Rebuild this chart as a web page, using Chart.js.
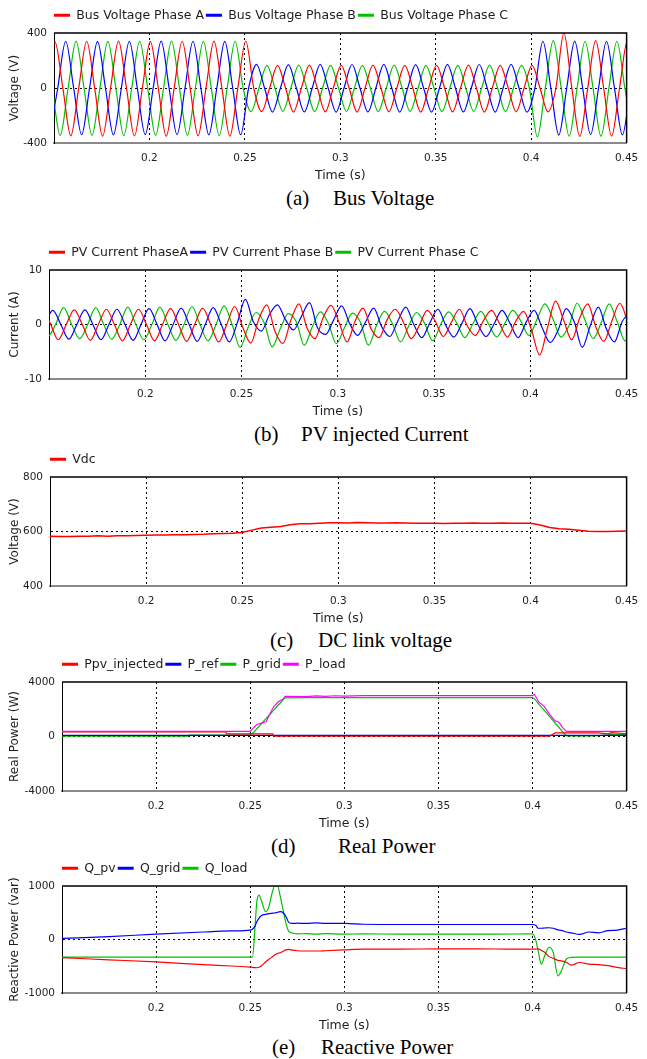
<!DOCTYPE html>
<html lang="en">
<head>
<meta charset="utf-8">
<title>Bus voltage, PV current, DC link voltage, real and reactive power</title>
<script src="https://cdn.jsdelivr.net/npm/chart.js@4.4.1/dist/chart.umd.min.js"></script>
<style>
    html, body { margin: 0; padding: 0; background: #fff; }
    #page { position: relative; width: 647px; height: 1059px; overflow: hidden; }
    #page canvas { position: absolute; left: 0; }
    .cap { position: absolute; font: 21px/24px "Liberation Serif", "Times New Roman", serif; color: #000; white-space: nowrap; }
</style>
</head>
<body>
<div id="page"></div>
<script>
/* ---------------- Data ---------------- */
const timeTicks = [0.2, 0.25, 0.3, 0.35, 0.4, 0.45];
const quarterStep = 1 / 240;   // phase waveforms are read every quarter of a 60 Hz cycle

// (a) bus voltage, V
const busLabels = ["Bus Voltage Phase A", "Bus Voltage Phase B", "Bus Voltage Phase C"];
const busTicks = [-400, 0, 400];
const busStart = [0.1463, 0.1478, 0.1449];
const busA = [
    0, 338, 0, -348, 0, 340, 0, -350, 0, 341, 0, -349, 0, 339, 0, -350, 0, 340, 0, -348, 0, 341, 0, -350,
    0, 340,
    0, -172, 0, 165, 0, -175, 0, 166, 0, -174, 0, 164, 0, -175, 0, 166, 0, -173, 0, 165,
    0, -175, 0, 164, 0, -174, 0, 166, 0, -175, 0, 165, 0, -173, 0, 165,
    0, -174,
    0, 400, 0, -352, 0, 345, 0, -350, 0, 346, 0, -351, 0, 344
];
const busB = [
    -338, 0, 340, 0, -340, 0, 339, 0, -341, 0, 340, 0, -339, 0, 341, 0, -340, 0, 340, 0, -341, 0, 339, 0,
    -340,
    0, 172, 0, -175, 0, 170, 0, -174, 0, 172, 0, -175, 0, 171, 0, -174, 0, 172, 0, -175,
    0, 170, 0, -175, 0, 172, 0, -174, 0, 171, 0, -175, 0, 172, 0, -175,
    0, 340, 0, -342, 0, 341, 0, -340, 0, 340, 0, -341, 0, 340
];
const busC = [
    340, 0, -345, 0, 341, 0, -344, 0, 339, 0, -346, 0, 340, 0, -345, 0, 341, 0, -344, 0, 340, 0, -346, 0,
    340,
    0,
    -172, 0, 165, 0, -170, 0, 166, 0, -172, 0, 164, 0, -171, 0, 165, 0, -172, 0, 166, 0,
    -170, 0, 165, 0, -172, 0, 164, 0, -171, 0, 166, 0, -172, 0, 165, 0,
    -355, 0, 345, 0, -350, 0, 340, 0, -350, 0, 340, 0, -345
];

// (b) PV injected current, A
const pvLabels = ["PV Current PhaseA", "PV Current Phase B", "PV Current Phase C"];
const pvTicks = [-10, 0, 10];
const pvStart = [0.1423, 0.1478, 0.1451];
const pvA = [
    0.5, 2.6, 0.2, -2.8, 0, 2.7, 0, -2.9, 0, 2.8, 0, -3.0, 0, 2.8, 0, -3.0, 0, 2.9, 0, -3.1, 0, 3.0, 0, -3.2,
    0, 3.3, -0.5, -3.4, 1.0, 3.6, -1.2, -3.5, 0.8, 3.8, -0.6, -2.6, 1.2, 3.5, 0.4, -3.2,
    0.6, 3.0, -0.8, -2.4, 0.9, 2.8, 0.5, -2.6, -0.2, 2.6, 0.6, -2.2, 0.4, 2.8, -0.3, -2.0, 0.7, 2.6, 0.2, -2.3,
    0.5, 2.4, -1.0, -5.6, -0.5, 4.3, 0.8, -2.8, 1.2, 3.8, -0.4, -3.1, 0.6, 3.9, 0.5
];
const pvB = [
    0, 2.6, 0, -2.7, 0, 2.7, 0, -2.8, 0, 2.8, 0, -2.9, 0, 2.9, 0, -3.0, 0, 3.0, 0, -3.1, 0, 3.1, 0, -3.2,
    0.3, 4.6, 0.5, -1.2, 1.8, 3.6, 0.9, -1.0, 1.5, 4.0, -0.6, -1.8, 0.8, 3.4, 0.2, -2.0,
    0.5, 3.0, -0.4, -2.2, 0.6, 3.2, 0, -2.4, 0.3, 2.8, -0.2, -2.3, 0.2, 2.9, 0, -2.2, 0.1, 2.6, 0.2, -2.4,
    0.4, 2.6, -0.6, -3.3, -1.0, 2.9, 0.5, -4.2, -0.2, 3.2, -0.8, -3.2, 0.6, 1.8, 0
];
const pvC = [
    0, -2.2, 0, 3.1, 0, -2.6, 0, 3.1, 0, -2.7, 0, 3.2, 0, -2.8, 0, 3.2, 0, -2.9, 0, 3.3, 0, -3.0, 0, 3.4,
    0, -4.2, -0.5, 2.2, 0.3, -4.1, -0.8, 2.0, 0.5, -3.8, -0.4, 2.3, 0.2, -3.5, -0.6, 2.1,
    0.4, -3.8, -0.2, 2.4, 0.1, -3.2, -0.3, 2.2, 0.2, -3.0, 0, 2.3, 0.3, -2.4, 0.1, 2.4, 0, -2.3, 0.2, 2.6,
    0.6, -2.0, 0.9, 3.8, 1.0, -2.3, -0.2, 3.9, 0.8, -2.6, 0.3, 3.8, 0.5, -3.0, 0
];

// (c) DC link voltage, V (one reading every 5 ms from 0.15 s)
const vdcLabels = ["Vdc"];
const vdcTicks = [400, 600, 800];
const vdcStart = 0.15;
const vdcStep = 0.005;
const vdc = [
    583, 582, 582, 583, 583, 584, 583, 584, 584, 585,
    586, 587, 587, 588, 588, 589, 590, 592, 593, 594,
    596, 605, 613, 616, 618, 625, 628, 628, 630, 632,
    632, 631, 633, 632, 631, 631, 632, 631, 630, 630,
    630, 629, 630, 630, 631, 630, 630, 631, 630, 630,
    630, 624, 615, 610, 608, 605, 601, 600, 600, 601,
    602
];

// (d) real power, W
const realLabels = ["Ppv_injected", "P_ref", "P_grid", "P_load"];
const realTicks = [-4000, 0, 4000];
const realTimes = [
    0.150, 0.217, 0.2175, 0.237, 0.2375, 0.250, 0.2515, 0.2535, 0.2565, 0.2585,
    0.2615, 0.2620, 0.2625, 0.2650, 0.2675, 0.2685, 0.2800, 0.2850, 0.2900, 0.2950,
    0.3000, 0.3100, 0.3500, 0.4000, 0.4010, 0.4035, 0.4060, 0.4090, 0.4120, 0.4140,
    0.4160, 0.4180, 0.4300, 0.4350, 0.4400, 0.4420, 0.4500
];
const pPv = [
    330, 330, 330, 330, 200, 200, 200, 200, 200, 200,
    200, 200, 20, 20, 20, 20, 20, 20, 20, 20,
    20, 20, 20, 20, 20, 20, 20, 20, 260, 260,
    260, 260, 260, 260, 200, 280, 200
];
const pRefTimes = [0.15, 0.45];
const pRef = [80, 80];
const pGrid = [
    30, 30, 100, 100, 100, 110, 270, 570, 1025, 1330,
    1780, 1860, 1935, 2310, 2690, 2840, 2860, 2860, 2860, 2860,
    2860, 2860, 2860, 2860, 2780, 2350, 1950, 1470, 990, 670,
    350, 50, 50, 60, 120, 150, 140
];
const pLoad = [
    370, 370, 370, 370, 370, 370, 600, 880, 1000, 1100,
    1950, 2050, 2200, 2550, 2750, 2950, 2930, 2980, 2940, 2990,
    2960, 3000, 3000, 3000, 3100, 2500, 2250, 1650, 1150, 1050,
    650, 380, 370, 370, 370, 370, 370
];

// (e) reactive power, var
const reactLabels = ["Q_pv", "Q_grid", "Q_load"];
const reactTicks = [-1000, 0, 1000];
const reactTimes = [
    0.150, 0.175, 0.200, 0.225, 0.240, 0.250, 0.2512, 0.2525, 0.2535, 0.2547,
    0.2560, 0.2582, 0.2600, 0.2615, 0.2630, 0.2645, 0.2660, 0.2675, 0.2690, 0.2705,
    0.2725, 0.2750, 0.2800, 0.2850, 0.2900, 0.3000, 0.3100, 0.3300, 0.3500, 0.3800,
    0.4000, 0.4018, 0.4030, 0.4047, 0.4065, 0.4088, 0.4110, 0.4135, 0.4153, 0.4180,
    0.4205, 0.4250, 0.4300, 0.4350, 0.4400, 0.4450, 0.4500
];
const qPv = [
    -340, -380, -420, -470, -495, -515, -520, -525, -528, -520,
    -490, -420, -370, -330, -290, -260, -245, -220, -195, -185,
    -200, -210, -215, -215, -210, -195, -180, -180, -175, -178,
    -180, -180, -175, -205, -240, -320, -350, -390, -400, -425,
    -480, -430, -460, -470, -490, -520, -545
];
const qGrid = [
    20, 55, 100, 140, 160, 175, 190, 250, 330, 400,
    450, 470, 485, 490, 495, 510, 520, 500, 430, 320,
    300, 305, 300, 310, 300, 300, 285, 280, 280, 280,
    280, 260, 210, 210, 215, 220, 210, 180, 170, 140,
    125, 95, 140, 125, 165, 175, 210
];
const qLoad = [
    -330, -330, -330, -330, -330, -330, -330, 200, 700, 830,
    720, 520, 620, 850, 1000, 1000, 800, 550, 300, 150,
    120, 105, 110, 100, 110, 100, 105, 100, 100, 100,
    105, -20, -210, -460, -300, -145, -240, -680, -590, -365,
    -335, -330, -330, -330, -330, -330, -330
];

(function (window, document) {
    "use strict";

    const COLORS = { red: "#ff0000", blue: "#0000ff", green: "#00c000", magenta: "#ff00ff", ink: "#1e1e1e" };
    const PHASE_COLORS = [COLORS.red, COLORS.blue, COLORS.green];

    // page geometry of each plot box and its caption
    const GEO = { width: 647, legendGap: 30, legendH: 24.5, axisH: 40.5, rightPad: 12.5 };
    const PANELS = [
        { top: 33,  bottom: 143, left: 54, yTitle: "Voltage (V)",          cap: "(a)", text: "Bus Voltage",         capX: [286, 333], capY: 198 },
        { top: 270, bottom: 379, left: 49, yTitle: "Current (A)",          cap: "(b)", text: "PV injected Current", capX: [254, 301], capY: 434 },
        { top: 477, bottom: 586, left: 50, yTitle: "Voltage (V)",          cap: "(c)", text: "DC link voltage",     capX: [270, 318], capY: 640 },
        { top: 682, bottom: 791, left: 62, yTitle: "Real Power (W)",       cap: "(d)", text: "Real Power",          capX: [271, 338], capY: 846 },
        { top: 886, bottom: 993, left: 62, yTitle: "Reactive Power (var)", cap: "(e)", text: "Reactive Power",      capX: [272, 321], capY: 1047 }
    ];

    /* ---------------- Plugins ---------------- */
    // top and right edges of the plot box
    const frame = {
        id: "frame",
        afterDatasetsDraw(chart) {
            const { ctx, chartArea: a } = chart;
            ctx.save();
            ctx.strokeStyle = "#000";
            ctx.lineWidth = 1.5;
            ctx.beginPath();
            ctx.moveTo(a.left, a.top);
            ctx.lineTo(a.right, a.top);
            ctx.lineTo(a.right, a.bottom);
            ctx.stroke();
            ctx.restore();
        }
    };

    // legend starts at the plot's left edge, not the canvas edge
    const legendShift = {
        id: "legendShift",
        afterLayout(chart) {
            const lg = chart.legend;
            if (!lg) return;
            const dx = chart.chartArea.left - lg.left - 2;
            lg.left += dx;
            lg.right += dx;
            lg.top -= 1.5;
            lg.bottom -= 1.5;
        }
    };

    init();

    function init() {
        Chart.defaults.font.family = "'DejaVu Sans', 'Liberation Sans', sans-serif";
        Chart.defaults.color = COLORS.ink;

        const page = document.getElementById("page");
        const panels = [
            { ticks: busTicks, sets: phaseSets(busLabels, busStart, [busA, busB, busC]) },
            { ticks: pvTicks, sets: phaseSets(pvLabels, pvStart, [pvA, pvB, pvC]) },
            {
                ticks: vdcTicks,
                sets: [lineSet(vdcLabels[0], COLORS.red, vdc.map((v, i) => ({ x: vdcStart + i * vdcStep, y: v })), { borderWidth: 1.5 })]
            },
            {
                ticks: realTicks,
                sets: [
                    lineSet(realLabels[0], COLORS.red, timed(realTimes, pPv)),
                    lineSet(realLabels[1], COLORS.blue, timed(pRefTimes, pRef)),
                    lineSet(realLabels[2], COLORS.green, timed(realTimes, pGrid)),
                    lineSet(realLabels[3], COLORS.magenta, timed(realTimes, pLoad), { order: 0 })
                ]
            },
            {
                ticks: reactTicks,
                sets: [
                    lineSet(reactLabels[0], COLORS.red, timed(reactTimes, qPv), { cubicInterpolationMode: "monotone" }),
                    lineSet(reactLabels[1], COLORS.blue, timed(reactTimes, qGrid), { cubicInterpolationMode: "monotone" }),
                    lineSet(reactLabels[2], COLORS.green, timed(reactTimes, qLoad), { cubicInterpolationMode: "monotone" })
                ]
            }
        ];

        PANELS.forEach((p, i) => {
            buildPanel(page, p, panels[i]);
            addCaption(page, p);
        });
    }

    /* ---------------- Series ---------------- */
    function timed(times, values) {
        return values.map((v, i) => ({ x: times[i], y: v }));
    }

    function phaseSets(labels, starts, rows) {
        return rows.map((vals, k) => lineSet(
            labels[k],
            PHASE_COLORS[k],
            vals.map((v, i) => ({ x: starts[k] + i * quarterStep, y: v })),
            { cubicInterpolationMode: "monotone" }
        ));
    }

    function lineSet(label, color, data, extra) {
        return Object.assign({
            label,
            data,
            borderColor: color,
            backgroundColor: color,
            borderWidth: 1.2,
            pointRadius: 0,
            fill: false,
            tension: 0,
            order: 1
        }, extra || {});
    }

    /* ---------------- Panel ---------------- */
    function buildPanel(page, p, s) {
        const axisBox = Math.ceil(GEO.axisH);
        const height = (p.bottom - p.top) + GEO.legendGap + axisBox;
        const canvas = document.createElement("canvas");
        canvas.width = GEO.width;
        canvas.height = height;
        canvas.style.top = (p.top - GEO.legendGap) + "px";
        canvas.style.width = GEO.width + "px";
        canvas.style.height = height + "px";
        page.appendChild(canvas);

        const yMid = s.ticks[1];
        const clear = "rgba(0,0,0,0)";

        new Chart(canvas.getContext("2d"), {
            type: "line",
            data: { datasets: s.sets },
            options: {
                responsive: false,
                animation: false,
                events: [],
                layout: { padding: { top: GEO.legendGap - GEO.legendH, right: GEO.rightPad, bottom: axisBox - GEO.axisH, left: 0 } },
                plugins: {
                    tooltip: { enabled: false },
                    legend: {
                        display: true,
                        position: "top",
                        align: "start",
                        labels: {
                            usePointStyle: true,
                            pointStyleWidth: 16,
                            padding: 2,
                            color: COLORS.ink,
                            font: { size: 12.5 },
                            generateLabels: (chart) => chart.data.datasets.map((ds, i) => ({
                                text: ds.label,
                                datasetIndex: i,
                                hidden: false,
                                fillStyle: ds.borderColor,
                                strokeStyle: ds.borderColor,
                                lineWidth: 3,
                                pointStyle: "line",
                                fontColor: COLORS.ink
                            }))
                        }
                    }
                },
                scales: {
                    x: {
                        type: "linear",
                        min: 0.15,
                        max: 0.45,
                        afterBuildTicks: (sc) => { sc.ticks = timeTicks.map(v => ({ value: v })); },
                        afterFit: (sc) => { sc.height = GEO.axisH; },
                        ticks: { padding: 8.7, autoSkip: false, maxRotation: 0, font: { size: 10.5 }, color: COLORS.ink, callback: (v) => String(v) },
                        grid: {
                            drawTicks: false,
                            lineWidth: 1,
                            color: (c) => (c.tick && c.tick.value > 0.15 && c.tick.value < 0.45) ? "#000" : clear
                        },
                        border: { display: true, color: "#8a8a8a", width: 2, dash: [2, 3] },
                        title: { display: true, text: "Time (s)", color: COLORS.ink, font: { size: 12.5 }, padding: { top: 4.2, bottom: 0 } }
                    },
                    y: {
                        type: "linear",
                        min: s.ticks[0],
                        max: s.ticks[2],
                        afterBuildTicks: (sc) => { sc.ticks = s.ticks.map(v => ({ value: v })); },
                        afterFit: (sc) => { sc.width = p.left; },
                        ticks: { padding: 7, font: { size: 10.5 }, color: COLORS.ink, callback: (v) => String(v) },
                        grid: {
                            drawTicks: false,
                            lineWidth: 1,
                            color: (c) => (c.tick && c.tick.value === yMid) ? "#000" : clear
                        },
                        border: { display: true, color: "#000", width: 1, dash: [2, 3] },
                        title: { display: true, text: p.yTitle, color: COLORS.ink, font: { size: 12 }, padding: { top: 7.8, bottom: 0 } }
                    }
                }
            },
            plugins: [frame, legendShift]
        });
    }

    function addCaption(page, p) {
        [[p.cap, p.capX[0]], [p.text, p.capX[1]]].forEach(([txt, x]) => {
            const el = document.createElement("div");
            el.className = "cap";
            el.textContent = txt;
            el.style.left = x + "px";
            el.style.top = (p.capY - 12) + "px";
            page.appendChild(el);
        });
    }

})(window, document);
</script>
</body>
</html>
